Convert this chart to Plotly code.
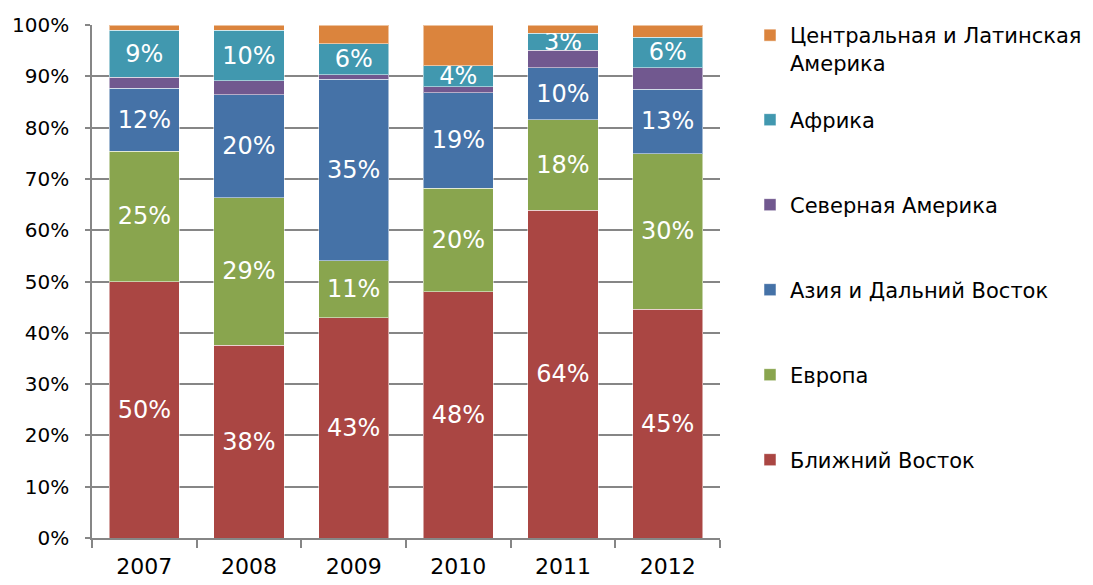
import plotly.graph_objects as go

years = ["2007", "2008", "2009", "2010", "2011", "2012"]

near_east = [50.0, 37.6, 42.9, 48.0, 63.9, 44.6]
europe = [25.4, 28.7, 11.1, 20.2, 17.6, 30.3]
asia = [12.3, 20.1, 35.4, 18.6, 10.2, 12.6]
north_america = [2.1, 2.7, 0.9, 1.2, 3.4, 4.2]
africa = [9.2, 9.9, 6.0, 4.1, 3.3, 5.9]
latin_america = [1.0, 1.0, 3.7, 7.9, 1.6, 2.4]

series = [
    ("Ближний Восток", near_east, "#AA4643", True),
    ("Европа", europe, "#89A54E", True),
    ("Азия и Дальний Восток", asia, "#4572A7", True),
    ("Северная Америка", north_america, "#71588F", False),
    ("Африка", africa, "#4198AF", True),
    ("Центральная и Латинская<br>Америка", latin_america, "#DB843D", False),
]

FONT = "DejaVu Sans"
# the page body adds an 8px margin, so the figure is a bit smaller than the window
W, H = 1085, 577

# legend rows: pixel y of each entry (from top of figure), bottom series first
legend_rows = [452, 367, 282, 197, 112, 7]

fig = go.Figure()
for i, (name, vals, color, show_text) in enumerate(series):
    lname = "legend" if i == 0 else "legend%d" % (i + 1)
    fig.add_trace(go.Bar(
        x=years, y=vals, name=name, legend=lname,
        marker=dict(color=color, line=dict(color="rgba(255,255,255,0.5)", width=1)),
        text=["%d%%" % round(v) for v in vals] if show_text else None,
        textposition="inside", insidetextanchor="middle", textangle=0,
        insidetextfont=dict(color="white", size=24, family=FONT),
        constraintext="none",
    ))
    fig.update_layout({lname: dict(
        xref="container", yref="container", x=742 / W,
        y=1 - legend_rows[i] / H, xanchor="left",
        yanchor="middle" if i < 5 else "top",
        valign="top",
        font=dict(size=21, family=FONT, color="black"),
        itemwidth=30, bgcolor="rgba(0,0,0,0)",
    )})

fig.update_layout(
    barmode="stack", bargap=0.33,
    width=W, height=H,
    paper_bgcolor="white", plot_bgcolor="white",
    margin=dict(l=84, r=373, t=17, b=47),
    font=dict(family=FONT, color="black"),
    showlegend=True,
    xaxis=dict(
        showline=True, linecolor="#868686", linewidth=1.5,
        ticks="outside", ticklen=8, tickcolor="#868686", tickwidth=1.5,
        tickson="boundaries",
        tickfont=dict(size=22),
        ticklabelstandoff=8,
        showgrid=False, automargin=False,
    ),
    yaxis=dict(
        range=[0, 100], dtick=10, ticksuffix="%",
        showline=True, linecolor="#868686", linewidth=1.5,
        ticks="outside", ticklen=5, tickcolor="#868686", tickwidth=1.5,
        showgrid=True, gridcolor="#868686", gridwidth=1.5,
        tickfont=dict(size=20),
        ticklabelstandoff=12,
        zeroline=False, automargin=False,
    ),
)

fig.write_html("out.html")
